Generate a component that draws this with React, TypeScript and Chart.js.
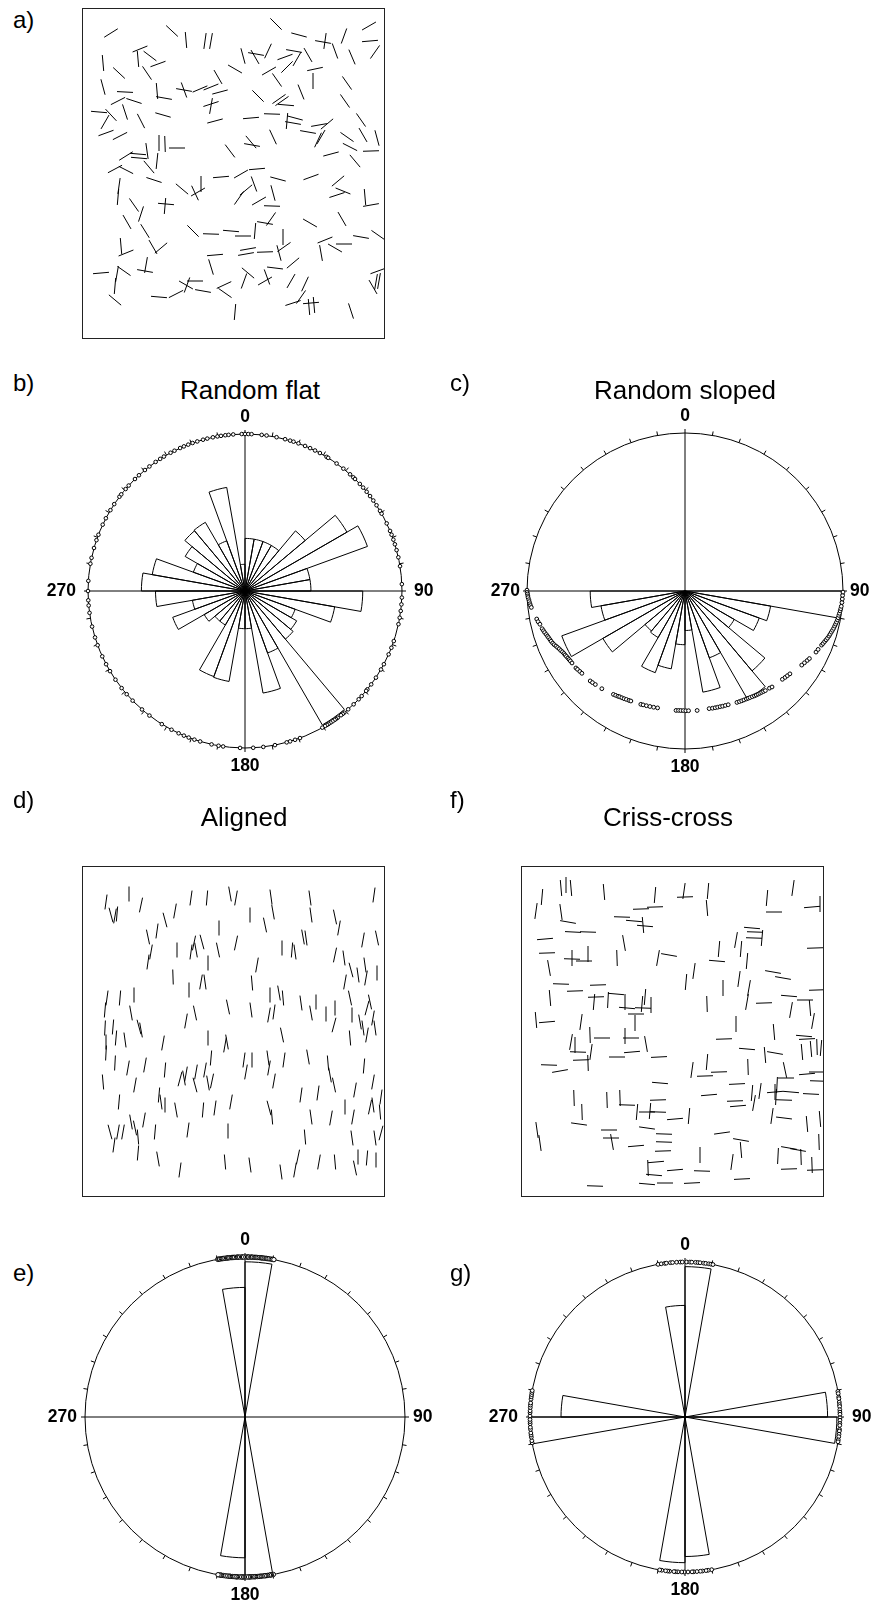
import React, { useEffect, useRef } from 'react';
import { Chart, registerables } from 'chart.js';
Chart.register(...registerables);

const FONT = '"Liberation Sans", Arial, Helvetica, sans-serif';

// ---------- rose diagram bins (10° classes, clockwise from north) ----------
const binLabels = ['0', '10', '20', '30', '40', '50', '60', '70', '80', '90', '100', '110', '120', '130', '140', '150', '160', '170',
  '180', '190', '200', '210', '220', '230', '240', '250', '260', '270', '280', '290', '300', '310', '320', '330', '340', '350'];
const circleTicks = [0, 10, 20, 30, 40, 50, 60, 70, 80, 90, 100, 110, 120, 130, 140, 150, 160, 170,
  180, 190, 200, 210, 220, 230, 240, 250, 260, 270, 280, 290, 300, 310, 320, 330, 340, 350];
const compassLabels = ['0', '90', '180', '270'];

const roseFlat = [3.35, 3.35, 3.35, 3.35, 5.0, 7.5, 8.3, 4.2, 4.2, 7.5, 5.8, 3.4, 3.8, 4.0, 9.85, 4.2, 6.6, 2.4,
  2.4, 5.85, 5.8, 2.5, 2.5, 3.0, 4.9, 3.4, 5.7, 6.6, 6.0, 3.5, 4.4, 5.0, 5.05, 3.4, 6.7, 1.7];
const roseSloped = [0, 0, 0, 0, 0, 0, 0, 0, 0, 9.9, 5.5, 5.0, 3.6, 6.6, 7.9, 4.5, 6.5, 2.5,
  3.4, 5.0, 5.5, 3.4, 3.3, 6.0, 8.3, 5.4, 6.0, 0, 0, 0, 0, 0, 0, 0, 0, 0];
const roseAligned = [9.7, 0, 0, 0, 0, 0, 0, 0, 0, 0, 0, 0, 0, 0, 0, 0, 0, 9.9,
  8.8, 0, 0, 0, 0, 0, 0, 0, 0, 0, 0, 0, 0, 0, 0, 0, 0, 8.1];
const roseCriss = [9.7, 0, 0, 0, 0, 0, 0, 0, 9.2, 9.8, 0, 0, 0, 0, 0, 0, 0, 9.0,
  9.4, 0, 0, 0, 0, 0, 0, 0, 9.95, 8.0, 0, 0, 0, 0, 0, 0, 0, 7.2];

// ---------- orientation points plotted on the stereonets ----------
const flatDots = [355.7, 358.8, 0, 1.2, 2.4, 6.1, 7.9, 11.6, 14.8, 16.7, 18, 19.9, 22.5, 24.5, 26.5, 28.5, 31.3, 32, 35.7,
  38.8, 42, 43.6, 44.5, 47, 48.8, 50.8, 52.8, 54.8, 56.9, 59.3, 60.5, 64.5, 67.5, 69, 70.9, 72.7, 74.9, 77.6, 80.9,
  87.5, 92.4, 94.9, 97.3, 99.8, 102.2, 108.6, 111.2, 113.8, 117.8, 120, 123.5, 126.5, 128.8, 129.5, 132, 133.6, 136.2,
  138.9, 140.8, 141.5, 142.3, 143.8, 144.6, 145.2, 146.1, 147, 147.8, 148.5, 149.3, 150.5, 159.5, 161.4, 163.3, 164.6,
  169, 173.3, 177, 181.8, 188, 189.7, 192.3, 196.6, 198.8, 201, 202.9, 205, 207.9, 212, 217.5, 221, 225.7, 228.9,
  231.8, 235.6, 239.3, 242.2, 245.4, 249.8, 252.8, 256.9, 262, 264.7, 266.6, 270, 273.7, 280, 282.2, 285.9, 288.9,
  291, 295, 297.6, 301, 303.6, 306.9, 308, 310.5, 312.2, 315.5, 317.5, 320.4, 322.5, 325.3, 327.3, 328.9, 331.7,
  333.3, 335.6, 337.1, 338.8, 340.5, 342.3, 344.5, 346.1, 348.2, 349.9, 351.2, 352.8, 354];

const slopedDotAz = [270.3, 269.5, 268.9, 268.2, 267.6, 266.8, 266.1, 265.3, 264.6, 263.9, 259.3, 258.2, 257.1,
  255.2, 254.3, 253.5, 252.6, 251.8, 251.1, 250.2, 249.4, 248.5, 247.7, 246.9, 246.1, 245.3, 244.4, 243.6, 242.7,
  241.9, 241.1, 240.2, 239.4, 238.6, 237.5, 234.8, 233.9, 232.6, 231.4, 226.5, 225.3, 223.8, 220.4,
  214.7, 213.6, 212.5, 211.7, 210.6, 209.5, 208.4, 207.1, 206.2, 201.3, 200.2, 198.6, 196.9, 195.1, 193.2,
  184.3, 183.1, 182.0, 180.8, 179.6, 178.3, 174.2, 168.4, 166.8, 165.5, 164.3, 163.1, 161.9, 160.6, 159.2,
  155.0, 153.8, 152.7, 151.6, 150.4, 149.5, 148.6, 147.5, 146.5, 145.6, 144.7, 143.8, 142.9, 142.0, 141.1,
  139.0, 137.8, 132.2, 130.8, 129.6, 128.3, 122.4, 121.0, 119.6, 118.5, 115.0, 113.7,
  111.6, 110.8, 109.9, 109.1, 108.3, 107.4, 106.6, 105.7, 104.9, 104.1, 103.2, 102.4, 101.6, 100.7, 99.9, 99.0,
  98.2, 97.3, 96.5, 95.6, 94.2, 92.9, 91.6, 90.4];
const slopedDotR = [10.0, 9.99, 9.97, 9.95, 9.94, 9.9, 9.88, 9.85, 9.82, 9.78, 9.55, 9.5, 9.42,
  9.35, 9.3, 9.26, 9.2, 9.16, 9.12, 9.08, 9.05, 9.0, 8.95, 8.88, 8.82, 8.76, 8.72, 8.66, 8.62,
  8.6, 8.57, 8.54, 8.52, 8.5, 8.48, 8.45, 8.42, 8.38, 8.35, 8.27, 8.24, 8.2, 8.12,
  7.96, 7.93, 7.9, 7.87, 7.85, 7.83, 7.8, 7.78, 7.76, 7.7, 7.68, 7.66, 7.64, 7.62, 7.6,
  7.58, 7.57, 7.57, 7.57, 7.58, 7.58, 7.6, 7.6, 7.62, 7.63, 7.64, 7.65, 7.67, 7.68, 7.7,
  7.78, 7.8, 7.82, 7.84, 7.86, 7.88, 7.9, 7.93, 7.96, 7.98, 8.0, 8.02, 8.04, 8.07, 8.1,
  8.15, 8.2, 8.32, 8.37, 8.41, 8.46, 8.75, 8.82, 8.9, 8.96, 9.15, 9.2,
  9.3, 9.35, 9.4, 9.45, 9.5, 9.55, 9.58, 9.62, 9.66, 9.7, 9.73, 9.76, 9.79, 9.82, 9.84, 9.86,
  9.88, 9.9, 9.92, 9.94, 9.96, 9.97, 9.98, 10.0];

const alignedDots = [350.2, 350.6, 350.9, 351.5, 351.9, 352.3, 352.8, 353.4, 353.7, 354.1, 354.6, 355.2, 355.5, 355.9,
  356.3, 357.0, 357.3, 357.6, 358.1, 358.8, 359.1, 359.5, 0.3, 0.9, 1.1, 1.4, 2.1, 2.4, 2.7, 3.3, 3.8, 4.2, 4.6, 5.1,
  5.7, 6.0, 6.4, 6.9, 7.5, 7.8, 8.2, 8.7, 9.4, 9.9, 10.4,
  169.8, 170.5, 170.8, 171.2, 171.9, 172.4, 172.7, 173.1, 173.8, 174.3, 174.6, 175.0, 175.6, 176.2, 176.5, 176.9, 177.5,
  178.1, 178.4, 178.8, 179.4, 180.2, 180.7, 181.0, 181.4, 182.0, 182.7, 183.0, 183.3, 183.9, 184.6, 185.2, 185.5,
  185.9, 186.5, 187.1, 187.8, 188.4, 188.7, 189.1, 189.7];

const crissDots = [350, 351.2, 352.5, 353.1, 354.6, 355.4, 356.9, 358.2, 359.0, 0.6, 1.8, 2.5, 3.9, 4.8, 5.6, 6.9,
  7.7, 8.8, 9.6, 10.4,
  80.5, 81.3, 82.6, 83.2, 84.5, 85.4, 86.1, 87.3, 88.2, 89.0, 90.3, 91.2, 92.4, 93.1, 94.6, 95.2, 96.4, 97.3, 98.5, 99.2,
  170.1, 171.4, 172.2, 173.5, 174.3, 175.6, 176.8, 177.4, 178.9, 180.3, 181.2, 182.6, 183.5, 184.1, 185.7, 186.4,
  187.2, 188.6, 189.4,
  260.4, 261.2, 262.5, 263.3, 264.1, 265.4, 266.2, 267.5, 268.3, 269.1, 270.4, 271.6, 272.3, 273.5, 274.4, 275.2,
  276.6, 277.5, 278.3, 279.1, 279.8];

// ---------- fracture traces in the map panels: [x, y, azimuth°] (map units, y down) ----------
const flatSegments: number[][] = [
  [29, 25, 58], [90, 23, 133], [104, 32, 175], [123, 33, 8], [129, 33, 10], [58, 41, 68], [56, 51, 175], [68, 48, 127],
  [65, 65, 146], [76, 56, 70], [21, 55, 175], [37, 65, 133], [21, 79, 165], [43, 84, 93], [75, 83, 175], [82, 90, 100],
  [102, 82, 100], [102, 82, 160], [118, 81, 67], [129, 79, 68], [136, 69, 150], [138, 84, 75], [36, 93, 63], [52, 93, 108],
  [17, 104, 95], [29, 107, 137], [23, 114, 30], [24, 125, 70], [38, 128, 63], [43, 104, 162], [59, 113, 153], [81, 107, 106],
  [129, 96, 72], [129, 98, 10], [133, 113, 75], [77, 135, 0], [83, 136, 178], [95, 140, 90], [44, 148, 58], [56, 146, 95],
  [57, 150, 95], [65, 143, 172], [67, 159, 140], [75, 153, 6], [33, 161, 62], [44, 162, 117], [72, 172, 108], [148, 143, 143],
  [37, 178, 8], [36, 189, 5], [52, 197, 145], [59, 206, 18], [84, 196, 95], [83, 198, 5], [100, 181, 130], [113, 185, 155],
  [116, 184, 60], [119, 176, 0], [139, 169, 85], [45, 214, 150], [63, 223, 148], [111, 223, 135], [129, 226, 92], [149, 223, 95],
  [39, 238, 175], [44, 245, 68], [71, 239, 150], [79, 240, 50], [133, 247, 85], [129, 259, 163], [19, 265, 85], [42, 263, 125],
  [35, 266, 10], [33, 278, 5], [64, 257, 10], [63, 263, 100], [33, 292, 130], [77, 289, 95], [94, 286, 63], [104, 277, 120],
  [105, 277, 20], [113, 273, 90], [121, 283, 100], [142, 277, 65], [143, 285, 125], [153, 304, 5],
  [194, 16, 135], [217, 27, 105], [241, 34, 100], [243, 33, 8], [253, 43, 160], [262, 28, 20], [287, 18, 60], [288, 33, 85],
  [293, 44, 35], [270, 49, 157], [161, 48, 165], [174, 46, 100], [173, 49, 150], [186, 43, 25], [153, 61, 120], [203, 49, 70],
  [212, 43, 100], [215, 51, 30], [226, 47, 150], [187, 63, 60], [195, 72, 145], [205, 59, 45], [233, 61, 78], [231, 73, 0],
  [265, 75, 145], [176, 88, 135], [197, 91, 55], [200, 93, 55], [204, 97, 95], [219, 84, 158], [263, 93, 145], [169, 110, 85],
  [190, 106, 92], [205, 113, 5], [213, 110, 105], [211, 115, 100], [226, 124, 100], [237, 117, 80], [245, 116, 50], [236, 132, 25],
  [239, 129, 30], [279, 112, 145], [265, 129, 125], [281, 127, 150], [295, 130, 165], [268, 139, 117], [289, 143, 88], [273, 153, 140],
  [249, 146, 75], [169, 134, 140], [170, 137, 100], [191, 129, 155], [159, 166, 60], [175, 161, 85], [196, 171, 105], [229, 169, 70],
  [172, 176, 160], [157, 190, 35], [164, 182, 50], [177, 193, 60], [191, 185, 165], [190, 198, 92], [256, 173, 50], [261, 183, 112],
  [255, 187, 72], [283, 189, 175], [289, 197, 80], [161, 228, 90], [173, 223, 5], [183, 215, 100], [189, 211, 35], [228, 215, 120],
  [260, 211, 150], [279, 229, 100], [296, 227, 125], [164, 246, 80], [166, 241, 80], [183, 244, 88], [197, 245, 165], [202, 239, 55],
  [201, 229, 0], [243, 232, 68], [239, 245, 170], [253, 240, 120], [262, 236, 90], [166, 265, 130], [162, 273, 20], [183, 273, 60],
  [185, 269, 160], [193, 260, 97], [211, 255, 50], [209, 273, 30], [223, 276, 25], [211, 295, 72], [219, 289, 35], [227, 299, 175],
  [232, 297, 175], [229, 295, 85], [269, 303, 162], [296, 263, 70], [291, 279, 150], [294, 274, 10], [297, 273, 10],
];

const alignedSegments: number[][] = [
  [24, 36, 8], [29, 49, 165], [33, 50, 10], [35, 48, 5], [47, 28, 0], [59, 39, 12], [109, 32, 8], [125, 32, 5], [148, 28, 170],
  [154, 32, 10], [83, 54, 165], [93, 45, 10], [66, 71, 168], [75, 65, 8], [69, 86, 10], [66, 96, 8], [95, 84, 0], [109, 86, 8],
  [112, 77, 12], [114, 84, 170], [120, 76, 165], [126, 97, 0], [137, 62, 0], [136, 84, 168], [154, 77, 12], [91, 111, 178],
  [119, 116, 10], [123, 116, 172], [107, 124, 0], [25, 132, 8], [38, 132, 5], [52, 129, 0], [23, 144, 5], [49, 147, 170],
  [57, 161, 165], [59, 164, 170], [23, 162, 3], [31, 161, 5], [24, 176, 0], [34, 172, 5], [43, 174, 172], [24, 187, 3],
  [33, 197, 3], [81, 177, 10], [104, 155, 10], [113, 147, 168], [146, 141, 168], [126, 172, 0], [143, 179, 10], [145, 176, 170],
  [129, 192, 5], [46, 202, 10], [63, 199, 10], [83, 204, 5], [21, 216, 175], [53, 219, 10], [98, 213, 15], [102, 212, 170],
  [104, 208, 10], [113, 219, 165], [114, 206, 10], [123, 204, 10], [126, 217, 170], [130, 215, 12], [37, 236, 5], [77, 229, 5],
  [79, 236, 172], [83, 239, 0], [94, 244, 170], [121, 244, 5], [133, 242, 8], [149, 236, 10], [28, 266, 165], [32, 279, 8],
  [36, 266, 10], [41, 266, 10], [49, 256, 170], [53, 262, 168], [56, 271, 175], [56, 287, 5], [62, 254, 10], [73, 266, 5],
  [106, 264, 8], [146, 265, 0], [76, 293, 170], [98, 304, 8], [143, 296, 175],
  [189, 31, 172], [191, 46, 170], [228, 32, 172], [229, 49, 172], [292, 29, 8], [168, 49, 0], [183, 59, 168], [253, 51, 168],
  [257, 62, 10], [221, 71, 170], [224, 72, 172], [200, 82, 0], [210, 84, 5], [213, 86, 172], [175, 99, 10], [170, 117, 175],
  [253, 89, 12], [262, 92, 172], [281, 74, 10], [295, 72, 168], [269, 104, 165], [276, 109, 172], [283, 99, 172], [284, 112, 10],
  [295, 107, 0], [263, 116, 10], [188, 129, 0], [187, 149, 10], [192, 146, 8], [197, 127, 170], [201, 132, 175], [169, 144, 172],
  [219, 137, 172], [229, 147, 170], [234, 136, 0], [244, 148, 0], [253, 142, 0], [252, 159, 15], [268, 132, 168], [270, 149, 0],
  [278, 156, 170], [281, 162, 172], [285, 169, 10], [285, 142, 15], [288, 136, 168], [291, 152, 10], [293, 162, 172], [200, 169, 168],
  [268, 172, 175], [162, 194, 8], [164, 206, 10], [170, 194, 0], [186, 192, 172], [187, 202, 10], [202, 194, 8], [226, 191, 170],
  [246, 197, 175], [248, 209, 170], [252, 219, 168], [192, 215, 10], [282, 200, 5], [291, 216, 10], [219, 229, 8], [236, 227, 8],
  [273, 224, 10], [187, 242, 165], [190, 251, 175], [229, 251, 172], [249, 252, 10], [263, 241, 0], [271, 251, 10], [288, 241, 12],
  [291, 239, 172], [299, 231, 8], [298, 246, 175], [223, 271, 175], [270, 272, 172], [293, 272, 172], [299, 267, 15], [168, 299, 172],
  [199, 306, 172], [213, 304, 10], [216, 291, 12], [237, 296, 10], [253, 296, 175], [273, 302, 168], [276, 291, 0], [285, 292, 5],
  [294, 294, 0],
];

const crissSegments: number[][] = [
  [40, 22, 175], [45, 19, 0], [50, 22, 175], [15, 45, 8], [21, 31, 5], [40, 46, 172], [47, 56, 100], [52, 66, 93], [67, 66, 92],
  [83, 26, 175], [134, 29, 5], [134, 41, 88], [120, 43, 88], [101, 51, 92], [113, 55, 95], [124, 60, 95], [122, 59, 175],
  [24, 73, 85], [103, 77, 170], [26, 87, 88], [51, 93, 92], [51, 92, 0], [67, 88, 0], [63, 95, 90], [96, 92, 178], [137, 92, 10],
  [148, 89, 100], [28, 102, 170], [40, 118, 92], [29, 132, 175], [54, 125, 88], [77, 119, 88], [75, 131, 88], [73, 136, 5],
  [95, 128, 95], [87, 134, 3], [104, 136, 0], [106, 142, 95], [122, 142, 92], [124, 131, 5], [130, 139, 0], [121, 138, 5],
  [115, 148, 90], [114, 157, 0], [15, 154, 175], [26, 156, 85], [60, 156, 8], [50, 176, 10], [54, 179, 0], [69, 169, 178],
  [81, 172, 90], [104, 170, 0], [110, 172, 90], [125, 178, 170], [57, 186, 92], [70, 186, 8], [67, 197, 178], [60, 194, 88],
  [96, 191, 90], [111, 186, 85], [138, 191, 87], [28, 199, 92], [39, 205, 80], [139, 217, 95], [53, 232, 178], [61, 246, 178],
  [86, 234, 178], [99, 232, 178], [106, 239, 92], [116, 246, 5], [126, 246, 90], [129, 245, 5], [137, 234, 88], [137, 246, 92],
  [16, 264, 172], [19, 277, 172], [58, 258, 98], [88, 264, 90], [91, 276, 170], [90, 272, 90], [126, 262, 98], [115, 280, 85],
  [143, 268, 92], [143, 276, 92], [142, 285, 88], [127, 302, 178], [135, 296, 85], [133, 309, 95], [74, 320, 92], [126, 318, 95],
  [144, 317, 90],
  [163, 25, 8], [164, 31, 88], [187, 25, 5], [186, 42, 175], [246, 32, 5], [253, 46, 90], [272, 22, 8], [291, 41, 85],
  [299, 38, 0], [231, 62, 95], [234, 66, 92], [233, 72, 92], [241, 72, 5], [215, 74, 10], [220, 83, 5], [226, 95, 5], [198, 83, 5],
  [196, 95, 95], [294, 82, 88], [173, 105, 8], [165, 116, 5], [202, 122, 0], [218, 113, 8], [252, 106, 100], [262, 112, 100],
  [228, 122, 10], [226, 136, 10], [186, 138, 178], [243, 137, 88], [268, 130, 95], [296, 124, 88], [284, 134, 90], [270, 144, 10],
  [289, 142, 175], [292, 155, 10], [215, 158, 0], [203, 173, 88], [253, 166, 175], [283, 170, 95], [286, 173, 87], [281, 186, 175],
  [290, 183, 175], [296, 181, 178], [300, 182, 5], [226, 183, 95], [244, 189, 175], [254, 187, 100], [171, 204, 8], [186, 196, 5],
  [184, 210, 88], [198, 206, 88], [227, 201, 178], [264, 204, 168], [265, 212, 90], [256, 219, 3], [255, 231, 3], [286, 208, 85],
  [296, 206, 90], [297, 215, 92], [216, 218, 87], [231, 227, 5], [239, 225, 8], [254, 226, 85], [254, 226, 0], [270, 226, 95],
  [290, 228, 93], [188, 229, 85], [214, 235, 88], [217, 240, 85], [233, 237, 10], [263, 234, 92], [154, 253, 85], [168, 250, 5],
  [251, 250, 8], [263, 252, 97], [286, 258, 175], [299, 253, 175], [201, 267, 82], [220, 274, 100], [220, 284, 175], [268, 282, 100],
  [257, 290, 3], [277, 284, 100], [280, 291, 178], [298, 276, 178], [179, 289, 0], [211, 296, 8], [268, 303, 88], [291, 299, 178],
  [294, 304, 88], [154, 304, 85], [181, 305, 92], [221, 313, 87], [171, 317, 87],
];

const MAP_W = 302;
const MAP_H = 330;

const framePlugin = {
  id: 'frame',
  afterDraw(chart: any) {
    const { ctx, chartArea } = chart;
    ctx.save();
    ctx.strokeStyle = '#222';
    ctx.lineWidth = 1;
    ctx.strokeRect(chartArea.left + 0.5, chartArea.top + 0.5, chartArea.width, chartArea.height);
    ctx.restore();
  },
};

function MapPanel({ left, top, segments, radius }: { left: number; top: number; segments: number[][]; radius: number }) {
  const ref = useRef<HTMLCanvasElement | null>(null);
  useEffect(() => {
    if (!ref.current) return;
    const chart = new Chart(ref.current, {
      type: 'scatter',
      data: {
        datasets: [{
          data: segments.map((s) => ({ x: s[0], y: s[1] })),
          pointStyle: 'line',
          pointRotation: segments.map((s) => s[2] - 90),
          pointRadius: radius,
          pointBorderColor: '#000',
          pointBackgroundColor: '#000',
          pointBorderWidth: 1,
          clip: false,
        } as any],
      },
      options: {
        responsive: false,
        animation: false,
        devicePixelRatio: 1,
        events: [],
        layout: { autoPadding: false, padding: 1 },
        scales: {
          x: { type: 'linear', display: false, min: 0, max: MAP_W },
          y: { type: 'linear', display: false, min: 0, max: MAP_H, reverse: true },
        },
        plugins: { legend: { display: false }, tooltip: { enabled: false } },
      } as any,
      plugins: [framePlugin],
    });
    return () => chart.destroy();
  }, []);
  return (
    <canvas ref={ref} width={MAP_W + 2} height={MAP_H + 2}
      style={{ position: 'absolute', left: left - 1, top: top - 1, width: MAP_W + 2, height: MAP_H + 2 }} />
  );
}

function makeRoseDecor(dotAz: number[], dotR: number[] | null, gap: number, dotSize: number) {
  return {
    id: 'roseDecor',
    afterDatasetsDraw(chart: any) {
      const s = chart.scales.r;
      const ctx = chart.ctx;
      const cx = s.xCenter;
      const cy = s.yCenter;
      const R = s.getDistanceFromCenterForValue(s.max);
      ctx.save();
      ctx.strokeStyle = '#000';
      ctx.lineWidth = 1;
      ctx.beginPath();
      for (const a of circleTicks) {
        const t = (a * Math.PI) / 180;
        ctx.moveTo(cx + Math.sin(t) * R, cy - Math.cos(t) * R);
        ctx.lineTo(cx + Math.sin(t) * (R + 4), cy - Math.cos(t) * (R + 4));
      }
      ctx.stroke();
      ctx.lineWidth = 1;
      dotAz.forEach((a, i) => {
        const d = s.getDistanceFromCenterForValue(dotR ? dotR[i] : s.max);
        const t = (a * Math.PI) / 180;
        ctx.beginPath();
        ctx.arc(cx + Math.sin(t) * d, cy - Math.cos(t) * d, dotSize, 0, Math.PI * 2);
        ctx.fillStyle = '#fff';
        ctx.fill();
        ctx.stroke();
      });
      ctx.fillStyle = '#000';
      ctx.font = `bold 17.5px ${FONT}`;
      ctx.textBaseline = 'middle';
      ctx.textAlign = 'center';
      ctx.fillText(compassLabels[0], cx, cy - R - 17);
      ctx.fillText(compassLabels[2], cx, cy + R + 18);
      ctx.textAlign = 'left';
      ctx.fillText(compassLabels[1], cx + R + gap, cy);
      ctx.textAlign = 'right';
      ctx.fillText(compassLabels[3], cx - R - gap, cy);
      ctx.restore();
    },
  };
}

const RW = 440;
const RH = 420;

function RosePanel({ cx, cy, radius, values, dotAz, dotR, gap, dotSize }:
  { cx: number; cy: number; radius: number; values: number[]; dotAz: number[]; dotR: number[] | null; gap: number; dotSize: number }) {
  const ref = useRef<HTMLCanvasElement | null>(null);
  useEffect(() => {
    if (!ref.current) return;
    const padX = (RW - 2 * radius) / 2;
    const padY = (RH - 2 * radius) / 2;
    const chart = new Chart(ref.current, {
      type: 'polarArea',
      data: {
        labels: binLabels,
        datasets: [{
          data: values,
          backgroundColor: 'rgba(255,255,255,0)',
          borderColor: '#000',
          borderWidth: 1,
        }],
      },
      options: {
        responsive: false,
        animation: false,
        devicePixelRatio: 1,
        events: [],
        layout: { padding: { left: padX, right: padX, top: padY, bottom: padY } },
        scales: {
          r: {
            type: 'radialLinear',
            min: 0,
            max: 10,
            startAngle: 0,
            ticks: { display: false, stepSize: 10 },
            grid: { display: true, circular: true, color: '#000', lineWidth: 1 },
            angleLines: {
              display: true,
              color: '#000',
              lineWidth: (c: any) => (c.index % 9 === 0 ? 1 : 0),
            },
            pointLabels: { display: false },
          } as any,
        },
        plugins: { legend: { display: false }, tooltip: { enabled: false } },
      },
      plugins: [makeRoseDecor(dotAz, dotR, gap, dotSize)],
    });
    return () => chart.destroy();
  }, []);
  return (
    <canvas ref={ref} width={RW} height={RH}
      style={{ position: 'absolute', left: cx - RW / 2, top: cy - RH / 2, width: RW, height: RH }} />
  );
}

function Text({ x, baseline, size, children, center }: { x: number; baseline: number; size: number; children: string; center?: boolean }) {
  const top = baseline - 0.8465 * size;
  const style: React.CSSProperties = {
    position: 'absolute', top, fontFamily: FONT, fontSize: size, lineHeight: `${size}px`, color: '#000', whiteSpace: 'nowrap',
  };
  if (center) {
    Object.assign(style, { left: x - 200, width: 400, textAlign: 'center' });
  } else {
    Object.assign(style, { left: x });
  }
  return <div style={style}>{children}</div>;
}

export default function App() {
  return (
    <div style={{ position: 'absolute', left: 0, top: 0, width: 874, height: 1604, overflow: 'hidden', background: '#fff' }}>
      <Text x={13} baseline={28} size={24}>a)</Text>
      <MapPanel left={82} top={8} segments={flatSegments} radius={8} />

      <Text x={13} baseline={391} size={24}>b)</Text>
      <Text x={250} baseline={399} size={26} center>Random flat</Text>
      <RosePanel cx={245} cy={591} radius={157} values={roseFlat} dotAz={flatDots} dotR={null} gap={12} dotSize={1.8} />

      <Text x={450} baseline={391} size={24}>c)</Text>
      <Text x={685} baseline={399} size={26} center>Random sloped</Text>
      <RosePanel cx={685} cy={591} radius={158} values={roseSloped} dotAz={slopedDotAz} dotR={slopedDotR} gap={7} dotSize={1.9} />

      <Text x={13} baseline={808} size={24}>d)</Text>
      <Text x={244} baseline={826} size={26} center>Aligned</Text>
      <MapPanel left={82} top={866} segments={alignedSegments} radius={7.5} />

      <Text x={450} baseline={808} size={24}>f)</Text>
      <Text x={668} baseline={826} size={26} center>Criss-cross</Text>
      <MapPanel left={521} top={866} segments={crissSegments} radius={8} />

      <Text x={13} baseline={1281} size={24}>e)</Text>
      <RosePanel cx={245} cy={1417} radius={160} values={roseAligned} dotAz={alignedDots} dotR={null} gap={8} dotSize={2.2} />

      <Text x={450} baseline={1281} size={24}>g)</Text>
      <RosePanel cx={685} cy={1417} radius={155} values={roseCriss} dotAz={crissDots} dotR={null} gap={12} dotSize={1.9} />
    </div>
  );
}
